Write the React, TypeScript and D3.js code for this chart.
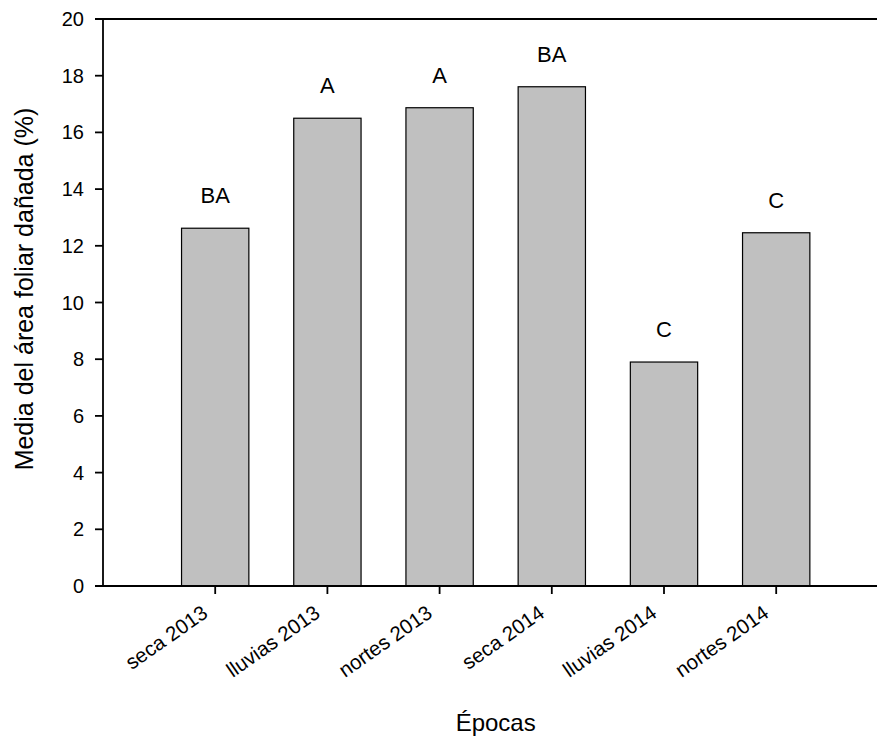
import React from "react";
import * as d3 from "d3";

const categories = ["seca 2013", "lluvias 2013", "nortes 2013", "seca 2014", "lluvias 2014", "nortes 2014"];
const values = [12.62, 16.5, 16.87, 17.61, 7.9, 12.46];
const letters = ["BA", "A", "A", "BA", "C", "C"];
const yTicks = [0, 2, 4, 6, 8, 10, 12, 14, 16, 18, 20];

const W = 877;
const H = 741;
const left = 103;
const top = 19;
const bottom = 586;
const slot = 112.2;
const FONT = "Arial, 'Liberation Sans', sans-serif";

export default function App() {
  const y = d3.scaleLinear().domain([0, 20]).range([bottom, top]);
  // categories sit at slots 1..6, slot 0 is the empty gap after the y axis
  const x = d3.scaleLinear().domain([0, 7]).range([left, left + 7 * slot]);
  const barW = slot * 0.6;

  return (
    <svg width={W} height={H} style={{ position: "absolute", left: 0, top: 0 }} fontFamily={FONT}>
      <rect width={W} height={H} fill="#fff" />
      {values.map((v, i) => (
        <rect
          key={categories[i]}
          x={x(i + 1) - barW / 2}
          y={y(v)}
          width={barW}
          height={y(0) - y(v)}
          fill="#c0c0c0"
          stroke="#000"
          strokeWidth={1.2}
        />
      ))}
      {values.map((v, i) => (
        <text key={"l" + i} x={x(i + 1)} y={y(v) - 25} textAnchor="middle" fontSize={22} fill="#000">
          {letters[i]}
        </text>
      ))}
      {/* frame: left axis, top line, baseline */}
      <line x1={left} x2={left} y1={top} y2={bottom} stroke="#000" strokeWidth={1.8} />
      <line x1={left - 8} x2={W} y1={top} y2={top} stroke="#000" strokeWidth={1.8} />
      <line x1={left - 8} x2={W} y1={bottom} y2={bottom} stroke="#000" strokeWidth={1.8} />
      {yTicks.map((t) => (
        <g key={t}>
          <line x1={left - 8} x2={left} y1={y(t)} y2={y(t)} stroke="#000" strokeWidth={1.8} />
          <text x={left - 19} y={y(t) + 7} textAnchor="end" fontSize={20} fill="#000">
            {t}
          </text>
        </g>
      ))}
      {categories.map((c, i) => (
        <g key={c}>
          <line x1={x(i + 1)} x2={x(i + 1)} y1={bottom} y2={bottom + 8} stroke="#000" strokeWidth={1.8} />
          <text
            transform={`translate(${x(i + 1) - 6},${bottom + 30}) rotate(-35)`}
            textAnchor="end"
            fontSize={20.5}
            fill="#000"
          >
            {c}
          </text>
        </g>
      ))}
      <text x={x(3.5)} y={731} textAnchor="middle" fontSize={24} fill="#000">
        Épocas
      </text>
      <text
        transform={`translate(33,289) rotate(-90)`}
        textAnchor="middle"
        fontSize={25}
        fill="#000"
      >
        Media del área foliar dañada (%)
      </text>
    </svg>
  );
}
